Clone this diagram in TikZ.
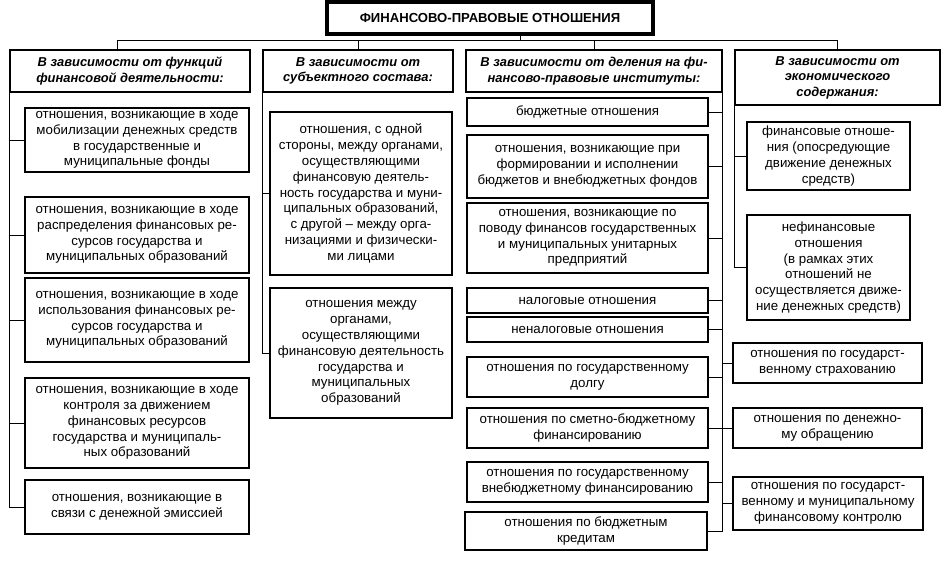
\documentclass[tikz,border=0pt]{standalone}
\usepackage{fontspec}
\setmainfont{Liberation Sans}
\begin{document}
\begin{tikzpicture}[x=1pt,y=-1pt,
	box/.style={draw,line width=1.4pt,align=center,inner sep=1pt,font=\fontsize{13.3}{15.8}\selectfont},
	head/.style={box,font=\fontsize{12.9}{15.5}\selectfont\bfseries\itshape},
	link/.style={line width=0.9pt}]
	\useasboundingbox (0,0) rectangle (950,564);
	\coordinate (bus) at (0,40);
	% title and column heads
	\node[box,line width=3.5pt,minimum width=326pt,minimum height=32pt,font=\fontsize{13.1}{15}\selectfont\bfseries] (title) at (490,18) {ФИНАНСОВО-ПРАВОВЫЕ ОТНОШЕНИЯ};
	\node[head,minimum width=240pt,minimum height=42pt] (h1) at (130,71) {В зависимости от функций\\финансовой деятельности:};
	\node[head,minimum width=190pt,minimum height=42pt] (h2) at (358,71) {В зависимости от\\субъектного состава:};
	\node[head,minimum width=256pt,minimum height=42pt] (h3) at (594,71) {В зависимости от деления на фи-\\нансово-правовые институты:};
	\node[head,minimum width=205pt,minimum height=55pt] (h4) at (837.5,77.5) {В зависимости от\\экономического\\содержания:};
	% first column
	\node[box,minimum width=224pt,minimum height=64pt] (b1) at (137,140) {отношения, возникающие в ходе\\мобилизации денежных средств\\в государственные и\\муниципальные фонды};
	\node[box,minimum width=224pt,minimum height=76pt] (b2) at (137,235) {отношения, возникающие в ходе\\распределения финансовых ре-\\сурсов государства и\\муниципальных образований};
	\node[box,minimum width=224pt,minimum height=84pt] (b3) at (137,320) {отношения, возникающие в ходе\\использования финансовых ре-\\сурсов государства и\\муниципальных образований};
	\node[box,minimum width=224pt,minimum height=90pt] (b4) at (137,423) {отношения, возникающие в ходе\\контроля за движением\\финансовых ресурсов\\государства и муниципаль-\\ных образований};
	\node[box,minimum width=224pt,minimum height=54pt] (b5) at (137,507) {отношения, возникающие в\\связи с денежной эмиссией};
	% second column
	\node[box,minimum width=182pt,minimum height=163pt] (c1) at (361,193.5) {отношения, с одной\\стороны, между органами,\\осуществляющими\\финансовую деятель-\\ность государства и муни-\\ципальных образований,\\с другой -- между орга-\\низациями и физически-\\ми лицами};
	\node[box,minimum width=182pt,minimum height=130pt] (c2) at (361,353) {отношения между\\органами,\\осуществляющими\\финансовую деятельность\\государства и\\муниципальных\\образований};
	% third column
	\node[box,minimum width=241pt,minimum height=28pt] (d1) at (587.5,112) {бюджетные отношения};
	\node[box,minimum width=241pt,minimum height=63pt] (d2) at (587.5,166.5) {отношения, возникающие при\\формировании и исполнении\\бюджетов и внебюджетных фондов};
	\node[box,minimum width=241pt,minimum height=70pt] (d3) at (587.5,238) {отношения, возникающие по\\поводу финансов государственных\\и муниципальных унитарных\\предприятий};
	\node[box,minimum width=241pt,minimum height=25pt] (d4) at (587.5,300.5) {налоговые отношения};
	\node[box,minimum width=241pt,minimum height=25pt] (d5) at (587.5,329.5) {неналоговые отношения};
	\node[box,minimum width=241pt,minimum height=40pt] (d6) at (587.5,377) {отношения по государственному\\долгу};
	\node[box,minimum width=241pt,minimum height=40pt] (d7) at (587.5,428) {отношения по сметно-бюджетному\\финансированию};
	\node[box,minimum width=241pt,minimum height=40pt] (d8) at (587.5,482) {отношения по государственному\\внебюджетному финансированию};
	\node[box,minimum width=242pt,minimum height=38pt] (d9) at (586,531) {отношения по бюджетным\\кредитам};
	% fourth column
	\node[box,minimum width=163pt,minimum height=68pt] (e1) at (828.5,156) {финансовые отноше-\\ния (опосредующие\\движение денежных\\средств)};
	\node[box,minimum width=163pt,minimum height=105pt] (e2) at (828.5,267.5) {нефинансовые\\отношения\\(в рамках этих\\отношений не\\осуществляется движе-\\ние денежных средств)};
	\node[box,minimum width=189pt,minimum height=40pt] (e3) at (827.5,363) {отношения по государст-\\венному страхованию};
	\node[box,minimum width=189pt,minimum height=40pt] (e4) at (827.5,428) {отношения по денежно-\\му обращению};
	\node[box,minimum width=190pt,minimum height=53pt] (e5) at (828,503.5) {отношения по государст-\\венному и муниципальному\\финансовому контролю};
	% connectors
	\draw[link] (title.330) -- (title.330 |- bus);
	\draw[link] ([xshift=-13pt]h1.north) |- (bus -| h4.north) -- (h4.north);
	\draw[link] (h2.north) -- (h2.north |- bus);
	\draw[link] (h3.north) -- (h3.north |- bus);
	\draw[link] (h1.south west) |- (b5.west);
	\foreach \n in {b1,b2,b3,b4}
		\draw[link] (\n.west) -- (\n.west -| h1.west);
	\draw[link] (h2.south west) |- (c2.west);
	\draw[link] (c1.west) -- (c1.west -| h2.west);
	\draw[link] (h3.south east) |- (d9.east);
	\foreach \n in {d1,d2,d3,d4,d5,d6,d7,d8}
		\draw[link] (\n.east) -- (\n.east -| h3.east);
	\foreach \n in {e3,e4,e5}
		\draw[link] (\n.west) -- (\n.west -| h3.east);
	\draw[link] (h4.south west) |- (e2.west);
	\draw[link] (e1.west) -- (e1.west -| h4.west);
\end{tikzpicture}
\end{document}
